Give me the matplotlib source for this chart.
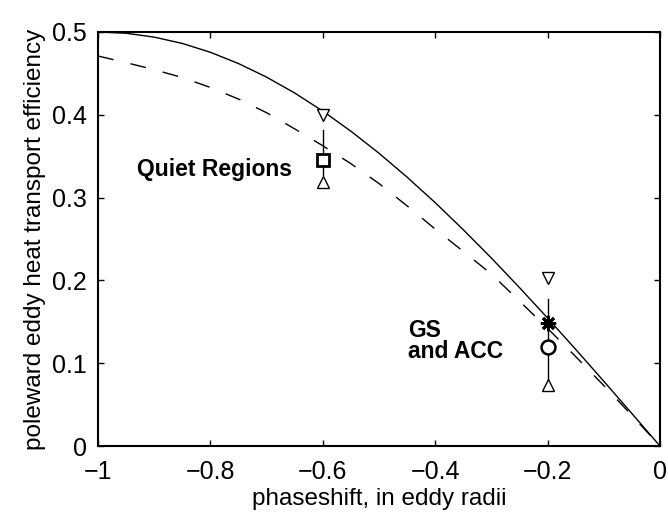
import matplotlib
matplotlib.use('Agg')
import matplotlib.pyplot as plt

plt.rcParams['font.family'] = ['Liberation Sans', 'DejaVu Sans']

# curves
phase = [-1.0, -0.95, -0.9, -0.85, -0.8, -0.75, -0.7, -0.65, -0.6, -0.55, -0.5,
         -0.45, -0.4, -0.35, -0.3, -0.25, -0.2, -0.15, -0.1, -0.05, 0.0]
eff_solid = [0.5, 0.4985, 0.4938, 0.4862, 0.4755, 0.4619, 0.4455, 0.4263, 0.4045,
             0.3802, 0.3536, 0.3247, 0.2939, 0.2612, 0.2270, 0.1913, 0.1545,
             0.1167, 0.0782, 0.0392, 0.0]
eff_dashed = [0.471, 0.463, 0.4545, 0.445, 0.433, 0.419, 0.4025, 0.383, 0.3626,
              0.341, 0.317, 0.290, 0.262, 0.235, 0.2077, 0.175, 0.142, 0.108,
              0.073, 0.037, 0.0]

# observations
quiet_x = -0.6
quiet_val = 0.345
quiet_hi = 0.400
quiet_lo = 0.319
quiet_bar = [0.327, 0.382]

gs_x = -0.2
gs_star = 0.149
gs_val = 0.120
gs_hi = 0.2035
gs_lo = 0.0737
gs_bar = [0.080, 0.178]

fig = plt.figure(figsize=(6.68, 5.28), dpi=100)
ax = fig.add_axes([0.1467, 0.1553, 0.8413, 0.7841])

ax.plot(phase, eff_solid, color='k', lw=1.0)
ax.plot(phase, eff_dashed, color='k', lw=1.0, dashes=(11.5, 12.5))

# quiet regions
ax.plot([quiet_x, quiet_x], quiet_bar, color='k', lw=1.0)
ax.plot(quiet_x, quiet_hi, marker='v', ms=8, mfc='w', mec='k', mew=1.0)
ax.plot(quiet_x, quiet_lo, marker='^', ms=8, mfc='w', mec='k', mew=1.0)
ax.plot(quiet_x, quiet_val, marker='s', ms=8.5, mfc='w', mec='k', mew=2.0)

# GS and ACC
ax.plot([gs_x, gs_x], gs_bar, color='k', lw=1.0)
ax.plot(gs_x, gs_hi, marker='v', ms=8, mfc='w', mec='k', mew=1.0)
ax.plot(gs_x, gs_lo, marker='^', ms=8, mfc='w', mec='k', mew=1.0)
ax.plot(gs_x, gs_val, marker='o', ms=10, mfc='w', mec='k', mew=1.8)
ax.plot(gs_x, gs_star, marker=(8, 2, 0), ms=11, color='k', mew=2.0)

ax.text(-0.931, 0.326, 'Quiet Regions', fontsize=16.5, fontweight='bold', va='baseline')
ax.text(-0.4484, 0.132, 'GS', fontsize=16.5, fontweight='bold', va='baseline')
ax.text(-0.4484, 0.106, 'and ACC', fontsize=16.5, fontweight='bold', va='baseline')

ax.set_xlim(-1, 0)
ax.set_ylim(0, 0.5)
ax.set_xticks([-1, -0.8, -0.6, -0.4, -0.2, 0])
ax.set_xticklabels(['\u22121', '\u22120.8', '\u22120.6', '\u22120.4', '\u22120.2', '0'])
ax.set_yticks([0, 0.1, 0.2, 0.3, 0.4, 0.5])
ax.set_yticklabels(['0', '0.1', '0.2', '0.3', '0.4', '0.5'])
ax.tick_params(direction='in', top=True, right=True, length=4.5, width=1.0,
               labelsize=18)
ax.tick_params(axis='x', pad=10)
ax.tick_params(axis='y', pad=8)
for s in ax.spines.values():
    s.set_linewidth(1.5)

ax.set_xlabel('phaseshift, in eddy radii', fontsize=17.5, labelpad=3)
ax.set_ylabel('poleward eddy heat transport efficiency', fontsize=17.5, labelpad=4)

fig.savefig('out.png', dpi=100)
